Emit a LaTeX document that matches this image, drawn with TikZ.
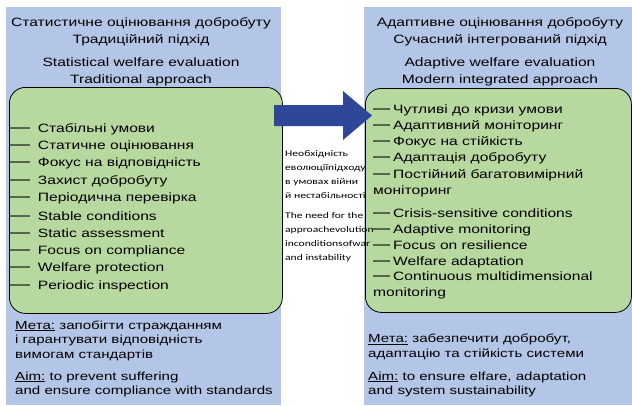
\documentclass[tikz,border=0pt]{standalone}
\usepackage{fontspec}
\usepackage{graphicx}
\setmainfont{Liberation Sans}[FakeStretch=1.29]
\newfontfamily\midfont{Carlito}[FakeStretch=1.33]
\definecolor{panelblue}{HTML}{B4C6E7}
\definecolor{boxgreen}{HTML}{B7D89E}
\definecolor{arrowblue}{HTML}{2E4799}
\newcommand\ldsh{\makebox[27.7pt][l]{\scalebox{1.28}[1.3]{—}}}
\newcommand\rdsh{\makebox[20pt][l]{\scalebox{1.09}[1.3]{—}}}
\begin{document}
\begin{tikzpicture}[x=1pt,y=-1pt,
  panel/.style={fill=panelblue,draw=none,inner sep=0pt,anchor=north west},
  greenbox/.style={fill=boxgreen,draw=black,line width=0.8pt,rounded corners=16pt,inner sep=0pt,anchor=north west},
  ttl/.style={font=\fontsize{12.1}{17}\selectfont,align=center,inner sep=0pt,anchor=base},
  lstA/.style={font=\fontsize{12.1}{17.1}\selectfont,align=left,inner sep=0pt,anchor=base west},
  lstB/.style={font=\fontsize{12.1}{16.2}\selectfont,align=left,inner sep=0pt,anchor=base west},
  lstC/.style={font=\fontsize{12.1}{15.9}\selectfont,align=left,inner sep=0pt,anchor=base west},
  aim/.style={font=\fontsize{11.7}{14.8}\selectfont,align=left,inner sep=0pt,anchor=base west},
  mid/.style={font=\midfont\fontsize{8.7}{14}\selectfont,align=left,inner sep=0pt,anchor=base west},
  bigarrow/.style={fill=arrowblue,draw=none}]
\path[use as bounding box] (0,0) rectangle (632,405);
% panels
\node[panel,minimum width=275pt,minimum height=398pt] (lpanel) at (6,7) {};
\node[panel,minimum width=268pt,minimum height=398pt] (rpanel) at (364,7) {};
% green boxes
\node[greenbox,minimum width=273pt,minimum height=226pt] (lbox) at (9,87) {};
\node[greenbox,minimum width=266pt,minimum height=224pt] (rbox) at (365,88) {};
% arrow
\fill[bigarrow] (274,105) -- (343,105) -- (343,91) -- (372,115.5) -- (343,140) -- (343,126) -- (274,126) -- cycle;
% titles (anchor = baseline of last line)
\node[ttl] (lt1) at (141,43) {Статистичне оцінювання добробуту\\Традиційний підхід};
\node[ttl] (lt2) at (141,83) {Statistical welfare evaluation\\Traditional approach};
\node[ttl] (rt1) at (500,43) {Адаптивне оцінювання добробуту\\Сучасний інтегрований підхід};
\node[ttl] (rt2) at (500,83) {Adaptive welfare evaluation\\Modern integrated approach};
% left list
\node[lstA] (ll1) at (10,201.1) {\ldsh Стабільні умови\\\ldsh Статичне оцінювання\\\ldsh Фокус на відповідність\\\ldsh Захист добробуту\\\ldsh Періодична перевірка};
\node[lstA] (ll2) at (10,289) {\ldsh Stable conditions\\\ldsh Static assessment\\\ldsh Focus on compliance\\\ldsh Welfare protection\\\ldsh Periodic inspection};
% right list
\node[lstB] (rl1) at (373,194.3) {\rdsh Чутливі до кризи умови\\\rdsh Адаптивний моніторинг\\\rdsh Фокус на стійкість\\\rdsh Адаптація добробуту\\\rdsh Постійний багатовимірний\\моніторинг};
\node[lstC] (rl2) at (373,296.8) {\rdsh Crisis-sensitive conditions\\\rdsh Adaptive monitoring\\\rdsh Focus on resilience\\\rdsh Welfare adaptation\\\rdsh Continuous multidimensional\\monitoring};
% middle text
\node[mid] (m1) at (285,198) {Необхідність\\еволюціїпідходу\\в умовах війни\\й нестабільності};
\node[mid] (m2) at (285,260.3) {The need for the\\approachevolution\\inconditionsofwar\\and instability};
% bottom
\node[aim] (la1) at (15,358.6) {\underline{Мета:} запобігти стражданням\\і гарантувати відповідність\\вимогам стандартів};
\node[aim] (la2) at (15,394.8) {\underline{Aim:} to prevent suffering\\and ensure compliance with standards};
\node[aim] (ra1) at (368,357.1) {\underline{Мета:} забезпечити добробут,\\адаптацію та стійкість системи};
\node[aim] (ra2) at (368,394.8) {\underline{Aim:} to ensure elfare, adaptation\\and system sustainability};
\end{tikzpicture}
\end{document}
